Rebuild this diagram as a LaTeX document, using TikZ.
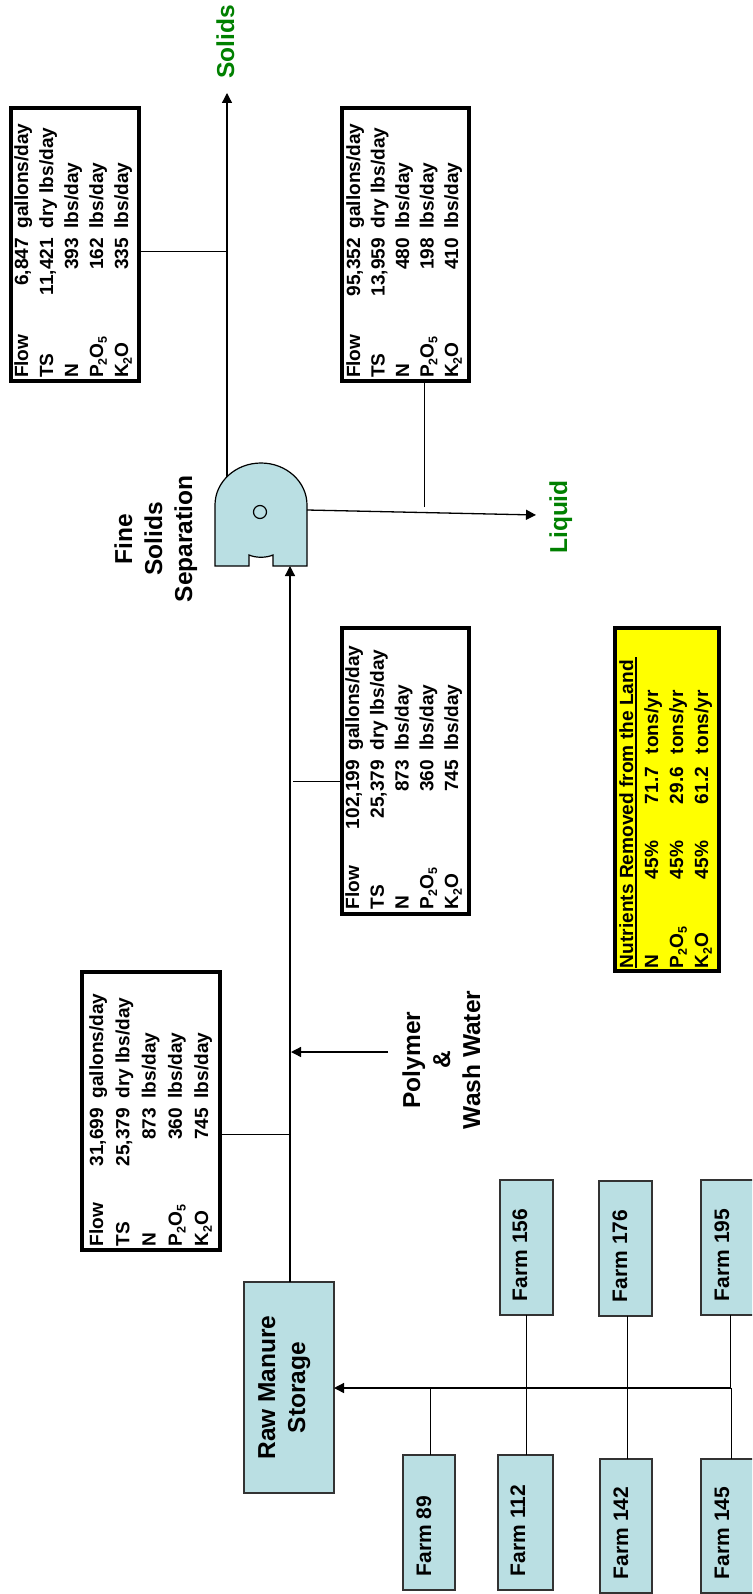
\documentclass[tikz,border=0pt]{standalone}
\usepackage{fontspec}
\setmainfont{Liberation Sans}
\usetikzlibrary{arrows.meta}
\definecolor{paleblue}{HTML}{BADFE3}
\definecolor{flowgreen}{HTML}{008000}
\definecolor{noteyellow}{rgb}{1,1,0}
\newlength{\dW}
\newcommand{\lowsub}[1]{\raisebox{-.2em}{\fontsize{12.5}{12.5}\selectfont #1}}
\newcommand{\drow}[3]{\makebox[\dW][l]{#1}\makebox[0pt][r]{#2}\hspace{9.5pt}#3}
\newcommand{\nrow}[4]{\makebox[89pt][l]{#1}\makebox[75pt][l]{#2}\makebox[50pt][l]{#3}#4}
% text at an exact offset from the node centre (dx along the text, dy across it)
\newcommand{\tx}[3]{\raisebox{#2pt}[0pt][0pt]{\makebox[0pt]{\hspace*{\dimexpr 2\dimexpr #1pt\relax\relax}\begin{tabular}[t]{@{}c@{}}#3\end{tabular}}}}
\newcommand{\dt}[3]{\raisebox{#2pt}[0pt][0pt]{\makebox[0pt][l]{\hspace*{#1pt}\begin{tabular}[t]{@{}l@{}}#3\end{tabular}}}}
\tikzset{
  link/.style={line width=1pt,black},
  flow/.style={line width=1.3pt,black,-{Triangle[length=10pt,width=10pt]}},
  bluebox/.style={draw=black!80,line width=1.3pt,fill=paleblue,rotate=90,inner sep=0pt,outer sep=0pt,font=\bfseries\fontsize{21}{30}\selectfont},
  databox/.style={draw=black,line width=4pt,fill=white,rotate=90,inner sep=0pt,outer sep=0pt,font=\bfseries},
  lbl/.style={rotate=90,inner sep=0pt,font=\bfseries\fontsize{24.5}{30}\selectfont},
  outlbl/.style={lbl,text=flowgreen}
}
\begin{document}
\begin{tikzpicture}[x=1pt,y=-1pt]
\useasboundingbox (0,0) rectangle (752,1594);
\clip (0,0) rectangle (752,1594);

% process boxes
\node[bluebox,minimum width=211pt,minimum height=90pt,font=\bfseries\fontsize{24.5}{30}\selectfont] (raw) at (289,1387.5) {\tx{0}{14}{Raw Manure\\Storage}};
\node[bluebox,minimum width=135pt,minimum height=53pt] (f156) at (526.5,1247.5) {\tx{-7.5}{-0.5}{Farm 156}};
\node[bluebox,minimum width=135pt,minimum height=53pt] (f176) at (625.5,1248.5) {\tx{-7.5}{-1.5}{Farm 176}};
\node[bluebox,minimum width=135pt,minimum height=53pt] (f195) at (727.5,1247.5) {\tx{-7.5}{-1.5}{Farm 195}};
\node[bluebox,minimum width=135pt,minimum height=52pt] (f89) at (429,1522.5) {\tx{-13.5}{-2}{Farm 89}};
\node[bluebox,minimum width=135pt,minimum height=55pt] (f112) at (525.5,1522.5) {\tx{-8}{0.5}{Farm 112}};
\node[bluebox,minimum width=134pt,minimum height=52pt] (f142) at (626,1526) {\tx{-7}{-2}{Farm 142}};
\node[bluebox,minimum width=134pt,minimum height=53pt] (f145) at (727.5,1526) {\tx{-7}{-1.5}{Farm 145}};

% separator
\draw[draw=black,line width=1.2pt,fill=paleblue]
  (215,566) -- (215,505)
  .. controls (215,481.8) and (235.6,463) .. (261,463)
  .. controls (286.4,463) and (307,481.8) .. (307,505)
  -- (307,566) -- (273,566) -- (273,555)
  .. controls (266,558) and (256,558) .. (249,555)
  -- (249,566) -- cycle;
\draw[line width=1.2pt] (260,512) circle[radius=6.5];
\coordinate (sepin) at (290,566);
\coordinate (septop) at (227,477);
\coordinate (sepout) at (307,510);

% data boxes
\node[databox,minimum width=273pt,minimum height=128pt] (boxA) at (74.5,244.5) {\setlength{\dW}{140pt}\fontsize{19.1}{25}\selectfont\dt{-133.5}{46.5}{%
 \drow{Flow}{6,847}{gallons/day}\\\drow{TS}{11,421}{dry lbs/day}\\\drow{N}{393}{lbs/day}\\\drow{P\lowsub{2}O\lowsub{5}}{162}{lbs/day}\\\drow{K\lowsub{2}O}{335}{lbs/day}}};
\node[databox,minimum width=273pt,minimum height=127pt] (boxB) at (405.5,244.5) {\setlength{\dW}{140pt}\fontsize{19.1}{24.5}\selectfont\dt{-133.5}{45.5}{%
 \drow{Flow}{95,352}{gallons/day}\\\drow{TS}{13,959}{dry lbs/day}\\\drow{N}{480}{lbs/day}\\\drow{P\lowsub{2}O\lowsub{5}}{198}{lbs/day}\\\drow{K\lowsub{2}O}{410}{lbs/day}}};
\node[databox,minimum width=286pt,minimum height=127pt] (boxC) at (405.5,771) {\setlength{\dW}{149pt}\fontsize{19.1}{24.75}\selectfont\dt{-138}{46.5}{%
 \drow{Flow}{102,199}{gallons/day}\\\drow{TS}{25,379}{dry lbs/day}\\\drow{N}{873}{lbs/day}\\\drow{P\lowsub{2}O\lowsub{5}}{360}{lbs/day}\\\drow{K\lowsub{2}O}{745}{lbs/day}}};
\node[databox,minimum width=278pt,minimum height=138pt] (boxD) at (151,1111) {\setlength{\dW}{138pt}\fontsize{19.1}{26.25}\selectfont\dt{-135}{48}{%
 \drow{Flow}{31,699}{gallons/day}\\\drow{TS}{25,379}{dry lbs/day}\\\drow{N}{873}{lbs/day}\\\drow{P\lowsub{2}O\lowsub{5}}{360}{lbs/day}\\\drow{K\lowsub{2}O}{745}{lbs/day}}};
\node[databox,fill=noteyellow,minimum width=343pt,minimum height=104pt] (nutr) at (667,799.5) {\fontsize{19.1}{25}\selectfont\dt{-168.5}{34}{%
 \rlap{\raisebox{-4.3pt}{\rule{311pt}{2.3pt}}}Nutrients Removed from the Land\\
 \nrow{N}{45\%}{71.7}{tons/yr}\\\nrow{P\lowsub{2}O\lowsub{5}}{45\%}{29.6}{tons/yr}\\\nrow{K\lowsub{2}O}{45\%}{61.2}{tons/yr}}};

% labels
\node[outlbl] (solids) at (234,42) {\tx{0}{0}{Solids}};
\node[outlbl] (liquid) at (567,517) {\tx{0}{0}{Liquid}};
\node[lbl] (fine) at (132,539) {\tx{0}{0}{Fine\\Solids\\Separation}};
\node[lbl] (poly) at (420,1060) {\tx{0}{0}{Polymer\\\&\\Wash Water}};

% junctions and free ends
\coordinate (solidsend) at (227,93);
\coordinate (liquidend) at (536,515);
\coordinate (jA) at (227,251.5);
\coordinate (jB) at (424,507);
\coordinate (jC) at (293,781);
\coordinate (jD) at (290,1134);
\coordinate (polyout) at (388,1052);
\coordinate (polyin) at (291,1052);
\coordinate (j89) at (430,1388);
\coordinate (j156) at (526,1388);
\coordinate (j176) at (627,1388);
\coordinate (j195) at (730,1388);
\coordinate (j145) at (731,1388);

% connectors
\draw[flow] (raw.east -| sepin) -- (sepin);
\draw[flow] (septop) -- (solidsend);
\draw[flow] (sepout) -- (liquidend);
\draw[flow] (polyout) -- (polyin);
\draw[flow] (j145) -- (raw.south |- j145);
\draw[link] (jA) -- (jA -| boxA.south);
\draw[link] (jB) -- (jB |- boxB.west);
\draw[link] (jC) -- (jC -| boxC.north);
\draw[link] (jD) -- (jD -| boxD.south);
\draw[link] (j89) -- (j89 |- f89.east);
\draw[link] (j156 |- f156.west) -- (j156 |- f112.east);
\draw[link] (j176 |- f176.west) -- (j176 |- f142.east);
\draw[link] (j195) -- (j195 |- f195.west);
\draw[link] (j145) -- (j145 |- f145.east);
\end{tikzpicture}
\end{document}
